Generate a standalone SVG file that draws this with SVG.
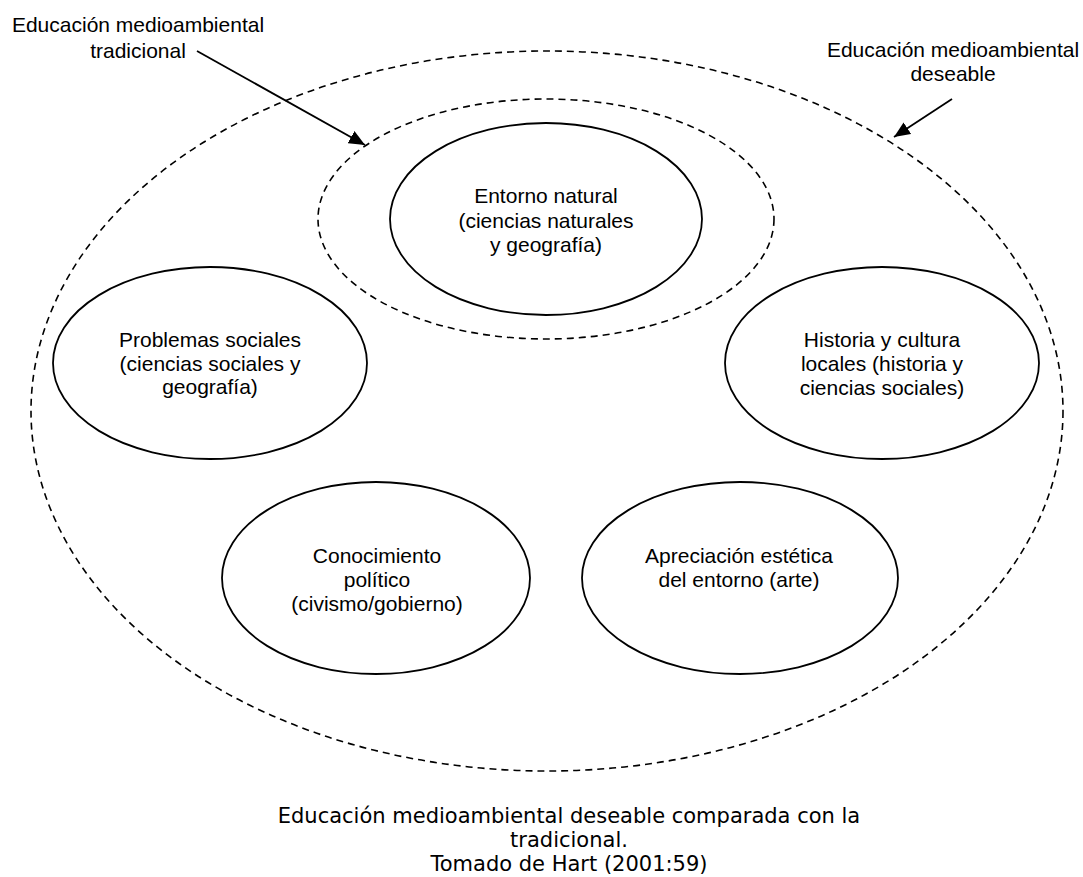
<svg xmlns="http://www.w3.org/2000/svg" width="1083" height="877" viewBox="0 0 1083 877">
<style>
.bg{fill:#ffffff}
.node{fill:#ffffff;stroke:#000000;stroke-width:1.8}
.dash{fill:none;stroke:#000000;stroke-width:1.6;stroke-dasharray:7 5}
.t{font-family:"Liberation Sans",Arial,sans-serif;font-size:21px;fill:#000000;text-anchor:middle}
.cap{font-family:"DejaVu Sans",Verdana,sans-serif;font-size:21px;fill:#000000;text-anchor:middle}
.arrow{stroke:#000000;stroke-width:1.8;fill:none}
</style>
<defs>
<marker id="ah" markerUnits="userSpaceOnUse" markerWidth="18" markerHeight="14" refX="16" refY="7" orient="auto">
<path d="M0,0 L16,7 L0,14 Z" fill="#000000"/>
</marker>
</defs>
<rect class="bg" x="0" y="0" width="1083" height="877"/>
<g id="outer-region">
<ellipse class="dash" cx="547" cy="411" rx="516" ry="360"/>
</g>
<g id="inner-region">
<ellipse class="dash" cx="546" cy="219" rx="228" ry="120"/>
</g>
<g id="node-entorno">
<ellipse class="node" cx="546" cy="219" rx="156" ry="96"/>
<text class="t" x="546" y="203">Entorno natural</text>
<text class="t" x="546" y="228">(ciencias naturales</text>
<text class="t" x="546" y="252">y geografía)</text>
</g>
<g id="node-problemas">
<ellipse class="node" cx="210" cy="363" rx="157" ry="96"/>
<text class="t" x="210" y="347">Problemas sociales</text>
<text class="t" x="210" y="371">(ciencias sociales y</text>
<text class="t" x="210" y="394">geografía)</text>
</g>
<g id="node-historia">
<ellipse class="node" cx="882" cy="363" rx="157" ry="96"/>
<text class="t" x="882" y="347">Historia y cultura</text>
<text class="t" x="882" y="371">locales (historia y</text>
<text class="t" x="882" y="395">ciencias sociales)</text>
</g>
<g id="node-conocimiento">
<ellipse class="node" cx="376" cy="578" rx="154" ry="96"/>
<text class="t" x="377" y="563">Conocimiento</text>
<text class="t" x="377" y="587">político</text>
<text class="t" x="377" y="611">(civismo/gobierno)</text>
</g>
<g id="node-apreciacion">
<ellipse class="node" cx="740" cy="578" rx="158" ry="96"/>
<text class="t" x="739" y="563">Apreciación estética</text>
<text class="t" x="739" y="587">del entorno (arte)</text>
</g>
<g id="label-tradicional">
<text class="t" x="138" y="32">Educación medioambiental</text>
<text class="t" x="138" y="58">tradicional</text>
</g>
<g id="label-deseable">
<text class="t" x="953" y="57">Educación medioambiental</text>
<text class="t" x="953" y="81">deseable</text>
</g>
<g id="connectors">
<line class="arrow" x1="197" y1="51" x2="365" y2="145" marker-end="url(#ah)"/>
<line class="arrow" x1="952" y1="99" x2="894" y2="137" marker-end="url(#ah)"/>
</g>
<g id="caption">
<text class="cap" x="569" y="823">Educación medioambiental deseable comparada con la</text>
<text class="cap" x="569" y="847">tradicional.</text>
<text class="cap" x="569" y="871">Tomado de Hart (2001:59)</text>
</g>
</svg>
